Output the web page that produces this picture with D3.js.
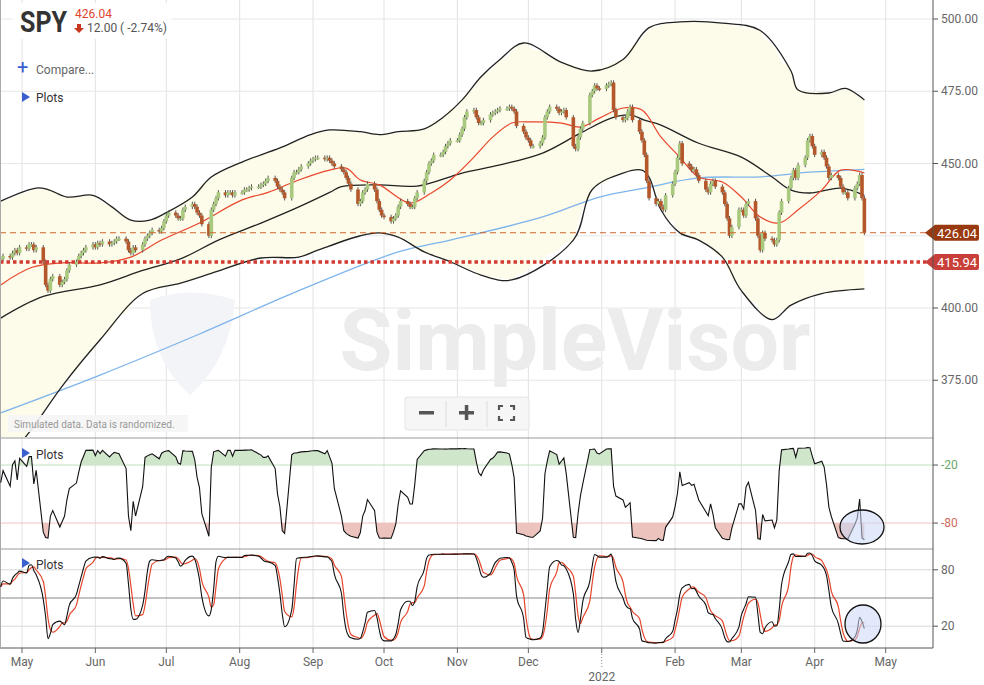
<!DOCTYPE html>
<html><head><meta charset="utf-8">
<script src="https://cdn.jsdelivr.net/npm/d3@7/dist/d3.min.js"></script>
<style>body{margin:0;background:#fff;font-family:Roboto,"Noto Sans",sans-serif}</style>
</head><body><svg id="c" width="984" height="685"></svg>
<script>
// ---- data ----
const closes = [417,418,417.5,419,420,419,421,420.5,422,422,420,421,416,408,406,410,411,408,409,410,
413,415,416,418,419,420,421,422,421,422.5,422,423,422,422.5,423,424,424,423,420,419,
421,420,422,424,425,426,427,426.5,427.7,430,432,433,432,431,431,434,435,436,435,433,
432,429,425,434,436,438,440,439,440,440,439,440,440,441,441,441.5,442,442,442.6,443,
444,445,444,442,441,440,438,445,447,447,448,449,450,451,451.5,452,452,451.5,452,451,
450,449,448,447,445,443,441,436,437,440,441,443,441,437,434,432,431.5,430,431,432,
435,437,436,435,435,438,440,444,447,450,451,453,453,454,456,457,458,458,460,462,
466,468,468.5,466,464,464,465,467,467.5,468,468.5,469,469,469.6,469,468,463,461,459,458,
456,456,457,459,466,468,469.6,469,467.5,468,468.5,466,456,455,459,462,464,473.7,475,477,
476,475.8,477,477.5,478,468.5,466,465,465.7,468,469.6,465,461,458,453,444,438,436,437,435,
434,439,443,447,452,457,450,449,447.7,448,446,444,441,440,443,444,442,440,436,431,
425,428,434,434,432,436,437,431,425,420,426,424,423.5,422,423.5,433,437,441.5,445,447.7,
445,449.5,452,458,459.5,456,453,454,452,449,445,446,445,442,440,440,438,441.5,443,446,
438,426.04];
const prevClose0 = 416.5;
// curves: [trading-day index, value]
const ma20 = [[0,408],[9,414],[18,415.6],[30,415.6],[39,417.6],[48,423.5],[60,429.4],[72,437.4],[81,440],[90,444.3],[99,447.7],[104,448.4],[108,444.3],[114,442.6],[123,436.3],[130,439.8],[136,444.3],[142,452.2],[148,459.2],[154,464],[160,464.4],[169,464],[175,462.6],[181,465.7],[187,469.2],[193,468.5],[199,459.2],[205,452.2],[211,445.3],[217,443.6],[223,438.4],[229,431.5],[235,429.4],[241,434],[247,440.8],[253,447.7],[261,446.7]];
const ma50 = [[0,396.5],[12,404],[30,408],[42,413],[54,417],[66,423.5],[78,429.4],[90,435],[99,440],[102,442],[114,442.6],[126,442.2],[139,446.7],[151,449.5],[163,453.6],[175,460.5],[184,465.7],[190,466.8],[194,465],[199,463.3],[211,457],[223,452.2],[232,445.3],[238,440.8],[244,439.8],[253,441.5],[261,439]];
const ma200 = [[0,363.7],[30,376.8],[60,391],[90,406],[120,419.4],[136,423.5],[163,431.5],[181,438.4],[194,441.5],[211,445],[229,445.4],[244,447],[261,448]];
const bbUpper = [[0,437],[11,441.5],[14,441],[20,438.4],[27,439],[33,435],[39,430.4],[45,430.4],[50,433],[57,438.4],[63,445.3],[72,450.5],[84,455.4],[93,460],[99,461.6],[108,461],[114,460],[120,461],[127,462],[133,466],[139,472],[145,480],[151,486],[157,491.7],[169,485],[178,482],[187,486],[196,497],[205,499],[217,498.6],[229,496],[238,482],[241,475.4],[250,474.4],[255,476],[261,472]];
const bbLower = [[0,345],[9,358],[18,373],[30,389],[42,405],[54,408.6],[63,412],[78,417.3],[90,417.6],[96,420],[108,425],[114,426],[120,424.5],[127,419.4],[136,416],[145,411.4],[154,409.7],[172,423.5],[178,441],[187,446.7],[193,447.7],[196,445.3],[199,434],[205,426],[211,423.5],[217,417.6],[223,406],[232,396],[238,401],[247,405],[261,406.6]];
const priceTicks = [375,400,425,450,475,500];
const priceTickLabels = [375,400,450,475,500];
const wrTicks = [-20,-80];
const stTicks = [80,20];
const monthLabels = ["May","Jun","Jul","Aug","Sep","Oct","Nov","Dec","","Feb","Mar","Apr","May"];
const lastPrice = 426.04, supportLevel = 415.94;

// ---- build ----
const dates=[]; {let d=new Date(2021,3,22); while(dates.length<closes.length){const w=d.getDay(); if(w>0&&w<6) dates.push(new Date(d)); d.setDate(d.getDate()+1);}}
const bars = closes.map((c,i)=>{const o=i?closes[i-1]:prevClose0; return {d:dates[i],o,c,h:Math.max(o,c)+0.8,l:Math.min(o,c)-0.8};});

const svg=d3.select("#c");
const W=933;
const x=d3.scaleTime().domain([new Date(2021,3,21,17),new Date(2022,4,21)]).range([0,W]);
const y=d3.scaleLinear().domain([400,500]).range([308,19]);
const yW=d3.scaleLinear().domain([0,-100]).range([445.7,542.4]);
const yS=d3.scaleLinear().domain([0,100]).range([645,551]);
const px=p=>x(dates[p[0]]);

// grids
const months=d3.timeMonth.range(new Date(2021,4,1),new Date(2022,4,2));
svg.append("g").selectAll("line").data(months).join("line")
 .attr("x1",d=>x(d)).attr("x2",d=>x(d)).attr("y1",0).attr("y2",648).attr("stroke","#e2e2e2");
svg.append("g").selectAll("line").data(priceTicks).join("line")
 .attr("x1",0).attr("x2",W).attr("y1",d=>y(d)).attr("y2",d=>y(d)).attr("stroke","#e6e6e6");
svg.append("g").selectAll("line").data(stTicks).join("line")
 .attr("x1",0).attr("x2",W).attr("y1",d=>yS(d)).attr("y2",d=>yS(d)).attr("stroke","#d8d8d8");
svg.append("line").attr("x1",0).attr("x2",W).attr("y1",yS(50)).attr("y2",yS(50)).attr("stroke","#888").attr("stroke-width",1.2);
svg.append("line").attr("x1",0).attr("x2",W).attr("y1",yW(-20)).attr("y2",yW(-20)).attr("stroke","#bfe0bf");
svg.append("line").attr("x1",0).attr("x2",W).attr("y1",yW(-80)).attr("y2",yW(-80)).attr("stroke","#f2c4c4");

// watermark
svg.append("text").attr("x",575).attr("y",370).attr("text-anchor","middle").attr("font-size",86).attr("font-weight",700)
 .attr("fill","#ececec").attr("font-family","Roboto").text("SimpleVisor");
svg.append("path").attr("d","M150,300 Q190,285 235,300 Q230,360 190,395 Q150,360 150,300Z").attr("fill","#f3f4f8");

// bollinger fill
const main=svg.append("g");
svg.append("clipPath").attr("id","mc").append("rect").attr("x",0).attr("y",0).attr("width",W).attr("height",437);
main.attr("clip-path","url(#mc)");
const uI=d3.scaleLinear().domain(bbUpper.map(p=>p[0])).range(bbUpper.map(p=>p[1]));
const lI=d3.scaleLinear().domain(bbLower.map(p=>p[0])).range(bbLower.map(p=>p[1]));
main.append("path").datum(d3.range(0,closes.length))
 .attr("d",d3.area().x(i=>x(dates[i])).y0(i=>y(lI(i))).y1(i=>y(uI(i))).curve(d3.curveMonotoneX))
 .attr("fill","#fdfbe9");
const ln=d3.line().x(px).y(p=>y(p[1])).curve(d3.curveCatmullRom);
main.append("path").datum(ma200).attr("d",ln).attr("fill","none").attr("stroke","#7db4ec").attr("stroke-width",1.3);
main.append("path").datum(bbUpper).attr("d",ln).attr("fill","none").attr("stroke","#222").attr("stroke-width",1.3);
main.append("path").datum(bbLower).attr("d",ln).attr("fill","none").attr("stroke","#222").attr("stroke-width",1.3);
main.append("path").datum(ma50).attr("d",ln).attr("fill","none").attr("stroke","#222").attr("stroke-width",1.3);
main.append("path").datum(ma20).attr("d",ln).attr("fill","none").attr("stroke","#e8452c").attr("stroke-width",1.2);

// candles
const cg=main.append("g");
bars.forEach(b=>{const up=b.c>=b.o, col=up?"#a9c97e":"#b4572b", cx=x(b.d);
 cg.append("line").attr("x1",cx).attr("x2",cx).attr("y1",y(b.h)).attr("y2",y(b.l)).attr("stroke","#555").attr("stroke-width",1);
 const t=y(Math.max(b.o,b.c)), h=Math.max(1.5,y(Math.min(b.o,b.c))-t);
 cg.append("rect").attr("x",cx-1.8).attr("y",t).attr("width",3.6).attr("height",h).attr("fill",col);});

// level lines
svg.append("line").attr("x1",0).attr("x2",W).attr("y1",y(lastPrice)).attr("y2",y(lastPrice)).attr("stroke","#d0652f").attr("stroke-dasharray","6,4");
svg.append("line").attr("x1",0).attr("x2",W).attr("y1",y(supportLevel)).attr("y2",y(supportLevel)).attr("stroke","#d23b32").attr("stroke-width",3.5).attr("stroke-dasharray","3.5,3");
[[lastPrice,"#98390f"],[supportLevel,"#c9403a"]].forEach(([v,c])=>{const yy=y(v);
 svg.append("path").attr("d",`M925,${yy} L935,${yy-8} H977 Q979,${yy-8} 979,${yy-6} V${yy+6} Q979,${yy+8} 977,${yy+8} H935 Z`).attr("fill",c);
 svg.append("text").attr("x",977).attr("y",yy+5).attr("text-anchor","end").attr("fill","#fff").attr("font-size",13).text(v.toFixed(2));});

// panels separators and axis
[438,549].forEach(v=>svg.append("line").attr("x1",0).attr("x2",W).attr("y1",v).attr("y2",v).attr("stroke","#999").attr("stroke-width",1.2));
svg.append("line").attr("x1",0).attr("x2",W).attr("y1",648).attr("y2",648).attr("stroke","#555");
svg.append("line").attr("x1",W).attr("x2",W).attr("y1",0).attr("y2",648).attr("stroke","#555");
svg.append("line").attr("x1",0.5).attr("x2",0.5).attr("y1",0).attr("y2",648).attr("stroke","#aaa");
const tickLab=(sel,data,ys,fmt,col)=>{sel.selectAll(null).data(data).join("g").each(function(d){const g=d3.select(this);
 g.append("line").attr("x1",W).attr("x2",W+5).attr("y1",ys(d)).attr("y2",ys(d)).attr("stroke","#555");
 g.append("text").attr("x",W+8).attr("y",ys(d)+4).attr("font-size",12).attr("fill",col(d)).text(fmt(d));});};
tickLab(svg.append("g"),priceTickLabels,y,d=>d.toFixed(2),()=>"#666");
tickLab(svg.append("g"),wrTicks,yW,d=>d,d=>d===-20?"#6aa86a":"#d06a60");
tickLab(svg.append("g"),stTicks,yS,d=>d,()=>"#666");

// indicators
const N=closes.length;
const wr=[],kRaw=[];
for(let i=0;i<N;i++){const s=bars.slice(Math.max(0,i-13),i+1);const hh=d3.max(s,b=>b.h),ll=d3.min(s,b=>b.l);
 wr.push(-100*(hh-bars[i].c)/(hh-ll)); kRaw.push(100*(bars[i].c-ll)/(hh-ll));}
const sma=(a,n)=>a.map((v,i)=>d3.mean(a.slice(Math.max(0,i-n+1),i+1)));
const kS=sma(kRaw,3), dS=sma(kS,3);
const wg=svg.append("g");
const ar=(base)=>d3.area().x((v,i)=>x(dates[i])).y0(yW(base)).y1(v=>yW(v)).curve(d3.curveLinear);
wg.append("clipPath").attr("id","wa").append("rect").attr("x",0).attr("y",439).attr("width",W).attr("height",yW(-20)-439);
wg.append("clipPath").attr("id","wb").append("rect").attr("x",0).attr("y",yW(-80)).attr("width",W).attr("height",548-yW(-80));
wg.append("path").datum(wr).attr("d",ar(-20)).attr("fill","#cfe6cb").attr("clip-path","url(#wa)");
wg.append("path").datum(wr).attr("d",ar(-80)).attr("fill","#ecc3bd").attr("clip-path","url(#wb)");
wg.append("path").datum(wr).attr("d",d3.line().x((v,i)=>x(dates[i])).y(v=>yW(v))).attr("fill","none").attr("stroke","#111").attr("stroke-width",1.1);
const sl=d3.line().x((v,i)=>x(dates[i])).y(v=>yS(v)).curve(d3.curveMonotoneX);
svg.append("path").datum(dS).attr("d",sl).attr("fill","none").attr("stroke","#e5452b").attr("stroke-width",1.2);
svg.append("path").datum(kS).attr("d",sl).attr("fill","none").attr("stroke","#111").attr("stroke-width",1.1);
// annotation circles
svg.append("ellipse").attr("cx",862).attr("cy",527).attr("rx",22).attr("ry",17).attr("fill","rgba(200,215,245,0.55)").attr("stroke","#111").attr("stroke-width",1.3);
svg.append("ellipse").attr("cx",863).attr("cy",624).attr("rx",18).attr("ry",19).attr("fill","rgba(200,215,245,0.55)").attr("stroke","#111").attr("stroke-width",1.3);

// x axis
const xs=d3.timeMonth.range(new Date(2021,4,1),new Date(2022,4,2));
svg.append("g").selectAll("text").data(xs).join("text").attr("x",d=>x(d)).attr("y",666).attr("text-anchor","middle")
 .attr("font-size",12).attr("fill","#666").text((d,i)=>monthLabels[i]);
svg.append("g").selectAll("line").data(xs).join("line").attr("x1",d=>x(d)).attr("x2",d=>x(d)).attr("y1",648).attr("y2",653).attr("stroke","#666");
svg.append("text").attr("x",x(new Date(2022,0,1))).attr("y",681).attr("text-anchor","middle").attr("font-size",12).attr("fill","#666").text("2022");
svg.append("line").attr("x1",x(new Date(2022,0,1))).attr("x2",x(new Date(2022,0,1))).attr("y1",654).attr("y2",668).attr("stroke","#888").attr("stroke-dasharray","1,2");

// header
svg.append("rect").attr("x",12).attr("y",3).attr("width",160).attr("height",36).attr("fill","#fff").attr("opacity",0.9);
svg.append("text").attr("x",20).attr("y",32).attr("font-size",29).attr("font-weight",700).attr("fill","#333")
 .attr("textLength",47).attr("lengthAdjust","spacingAndGlyphs").text("SPY");
svg.append("text").attr("x",75).attr("y",18).attr("font-size",12).attr("fill","#e0452d").text("426.04");
svg.append("path").attr("d","M77,24 h4 v4 h3 l-5,5 l-5,-5 h3z").attr("fill","#c9361f");
svg.append("text").attr("x",87).attr("y",32).attr("font-size",12).attr("fill","#555").text("12.00 ( -2.74%)");
svg.append("text").attr("x",17).attr("y",74).attr("font-size",20).attr("fill","#3b5fcf").text("+");
svg.append("text").attr("x",36).attr("y",74).attr("font-size",12).attr("fill","#666").text("Compare...");
const tri=(xx,yy)=>svg.append("path").attr("d",`M${xx},${yy-5} L${xx+8},${yy} L${xx},${yy+5}Z`).attr("fill","#3b5fcf");
tri(22,97); svg.append("text").attr("x",36).attr("y",102).attr("font-size",12).attr("fill","#333").text("Plots");
tri(22,453); svg.append("text").attr("x",36).attr("y",459).attr("font-size",12).attr("fill","#333").text("Plots");
tri(22,563); svg.append("text").attr("x",36).attr("y",569).attr("font-size",12).attr("fill","#333").text("Plots");

// simulated note + zoom buttons
svg.append("rect").attr("x",8).attr("y",415).attr("width",180).attr("height",17).attr("fill","#f5f5f5").attr("opacity",0.9);
svg.append("text").attr("x",14).attr("y",428).attr("font-size",10).attr("fill","#999").text("Simulated data.  Data is randomized.");
const zb=svg.append("g");
zb.append("rect").attr("x",405).attr("y",397).attr("width",124).attr("height",33).attr("rx",3).attr("fill","#f6f6f6").attr("stroke","#e4e4e4");
[446,487].forEach(v=>zb.append("line").attr("x1",v).attr("x2",v).attr("y1",401).attr("y2",427).attr("stroke","#ddd"));
zb.append("rect").attr("x",419).attr("y",411).attr("width",15).attr("height",3.5).attr("fill","#555");
zb.append("rect").attr("x",459).attr("y",411).attr("width",15).attr("height",3.5).attr("fill","#555");
zb.append("rect").attr("x",464.8).attr("y",405).attr("width",3.5).attr("height",15).attr("fill","#555");
zb.append("path").attr("d","M499,410 v-4 h4 M510,406 h4 v4 M514,416 v4 h-4 M503,420 h-4 v-4").attr("fill","none").attr("stroke","#555").attr("stroke-width",2.2);
</script></body></html>
